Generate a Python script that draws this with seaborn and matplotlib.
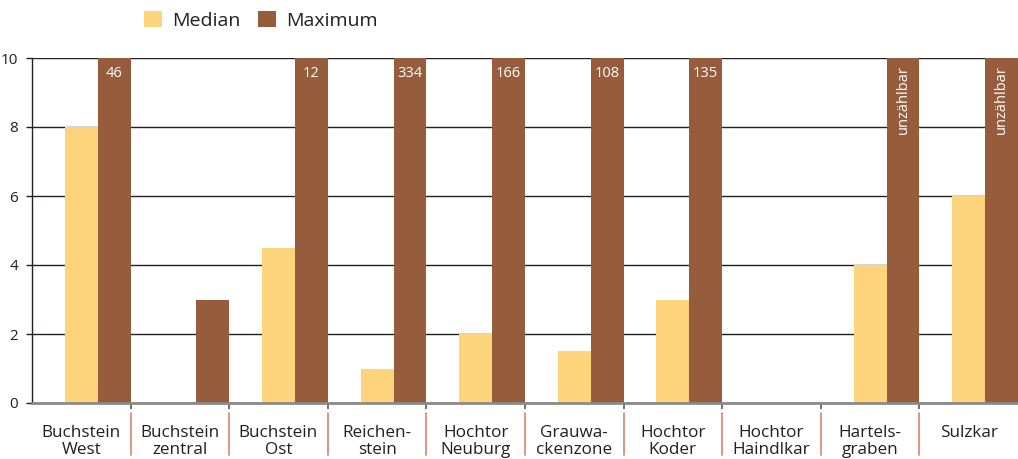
import matplotlib
matplotlib.use("Agg")
import matplotlib.pyplot as plt
import matplotlib.transforms as mtransforms
from matplotlib.patches import Patch
import seaborn as sns
import pandas as pd

categories = ["Buchstein\nWest", "Buchstein\nzentral", "Buchstein\nOst", "Reichen-\nstein",
              "Hochtor\nNeuburg", "Grauwa-\nckenzone", "Hochtor\nKoder", "Hochtor\nHaindlkar",
              "Hartels-\ngraben", "Sulzkar"]
median_vals = [8, 0, 4.5, 1, 2, 1.5, 3, 0, 4, 6]
maximum_vals = [10, 3, 10, 10, 10, 10, 10, 0, 10, 10]
maximum_labels = ["46", "", "12", "334", "166", "108", "135", "", "unzählbar", "unzählbar"]
y_ticks = [0, 2, 4, 6, 8, 10]

sns.set_style("white")
plt.rcParams['font.family'] = ['Open Sans', 'DejaVu Sans']

c_med = "#FDD47C"
c_max = "#975C3B"

rows = []
for c, m, x in zip(categories, median_vals, maximum_vals):
    rows.append({"cat": c, "series": "_", "value": 0})
    rows.append({"cat": c, "series": "Median", "value": m})
    rows.append({"cat": c, "series": "Maximum", "value": x})
df = pd.DataFrame(rows)

fig = plt.figure(figsize=(10.18, 4.59), dpi=100)
ax = fig.add_axes([32/1018, 1 - 403/459, 986/1018, 345/459])

sns.barplot(data=df, x="cat", y="value", hue="series", order=categories,
            hue_order=["_", "Median", "Maximum"],
            palette={"_": "white", "Median": c_med, "Maximum": c_max},
            width=1.0, dodge=True, saturation=1, ax=ax, legend=False, linewidth=0,
            errorbar=None)

ax.set_xlim(-0.5, len(categories) - 0.5)
ax.set_ylim(0, 10)
ax.set_yticks(y_ticks)
ax.set_axisbelow(True)
ax.yaxis.grid(True, color="#231f20", linewidth=1.0)
ax.xaxis.grid(False)
ax.set_xlabel("")
ax.set_ylabel("")

for s in ["top", "right"]:
    ax.spines[s].set_visible(False)
ax.spines["left"].set_color("#231f20")
ax.spines["left"].set_linewidth(1.0)
ax.spines["bottom"].set_color("#8a8a8a")
ax.spines["bottom"].set_linewidth(2.0)

ax.tick_params(axis="y", length=4, width=1, color="#231f20", labelsize=11,
               labelcolor="#231f20", pad=6, left=True)
ax.tick_params(axis="x", which="major", length=0, labelsize=12.3,
               labelcolor="#231f20", pad=16)
ax.set_xticks([i + 0.5 for i in range(len(categories) - 1)], minor=True)
ax.tick_params(axis="x", which="minor", length=4, width=1.2, color="#555555",
               direction="out", bottom=True)
ax.set_xticklabels(categories, linespacing=1.1)

# red separators below the axis
trans = mtransforms.blended_transform_factory(ax.transData, ax.transAxes)
for i in range(len(categories) - 1):
    ax.plot([i + 0.5, i + 0.5], [-0.029, -0.151], transform=trans, color="#e08a78",
            linewidth=1.3, clip_on=False)

# labels on maximum bars
max_container = ax.containers[2]
for bar, lab in zip(max_container, maximum_labels):
    if not lab:
        continue
    cx = bar.get_x() + bar.get_width() / 2
    top = bar.get_height()
    if len(lab) > 4:
        ax.text(cx, top - 0.22, lab, rotation=90, ha="center", va="top",
                color="white", fontsize=10.5)
    else:
        ax.text(cx, top - 0.22, lab, ha="center", va="top", color="white",
                fontsize=10.5)

handles = [Patch(facecolor=c_med, edgecolor="none", label="Median"),
           Patch(facecolor=c_max, edgecolor="none", label="Maximum")]
fig.legend(handles=handles, loc="upper left", bbox_to_anchor=(126/1018, 1.015),
           ncol=2, frameon=False, fontsize=14, handlelength=0.95, handleheight=0.95,
           handletextpad=0.5, columnspacing=0.9, labelcolor="#231f20")

fig.savefig("out.png", dpi=100)
